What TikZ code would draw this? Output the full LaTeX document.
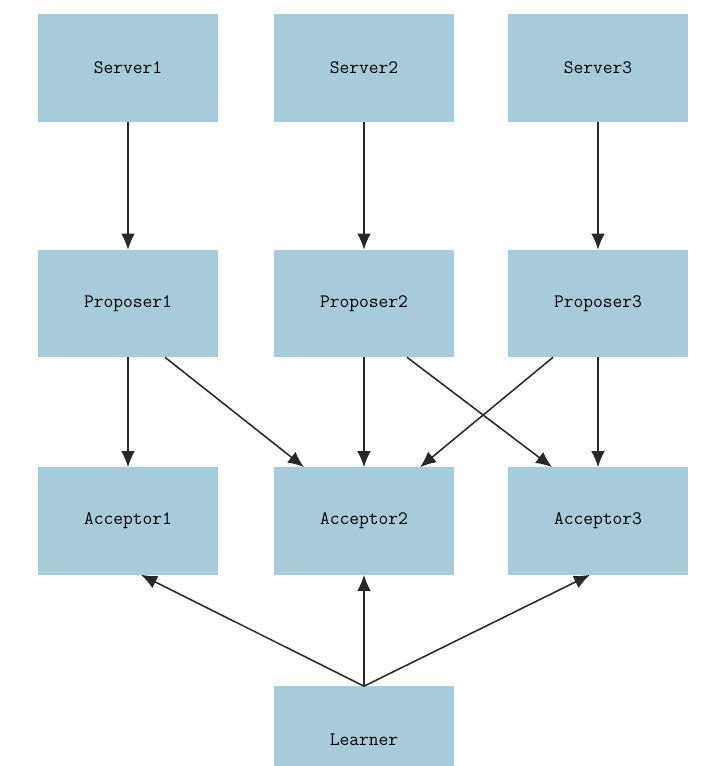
\documentclass[tikz,border=0pt]{standalone}
\usepackage{fontspec}
\usetikzlibrary{arrows.meta}
\definecolor{boxblue}{RGB}{168,203,218}
\definecolor{linegray}{RGB}{40,40,40}
\begin{document}
\begin{tikzpicture}
  [x=0.025cm,y=-0.025cm,
   roleN/.style={rectangle,fill=boxblue,minimum width=4.5cm,minimum height=2.675cm,
                 inner sep=0pt,font=\ttfamily\fontsize{13.5}{16}\selectfont,text=black},
   msg/.style={draw=linegray,line width=1.1pt,-{Latex[length=0.4cm,width=0.34cm]}}]

  \clip (0,0) rectangle (720,766);
  \useasboundingbox (0,0) rectangle (720,766);

  \node[roleN] (s1) at (128,68)  {Server1};
  \node[roleN] (s2) at (364,68)  {Server2};
  \node[roleN] (s3) at (598,68)  {Server3};

  \node[roleN] (p1) at (128,303.5) {Proposer1};
  \node[roleN] (p2) at (364,303.5) {Proposer2};
  \node[roleN] (p3) at (598,303.5) {Proposer3};

  \node[roleN] (a1) at (128,521) {Acceptor1};
  \node[roleN] (a2) at (364,521) {Acceptor2};
  \node[roleN] (a3) at (598,521) {Acceptor3};

  \node[roleN] (l) at (364,740) {Learner};

  \draw [msg] (s1) -- (p1);
  \draw [msg] (s2) -- (p2);
  \draw [msg] (s3) -- (p3);

  \draw [msg] (p1) -- (a1);
  \draw [msg] (p2) -- (a2);
  \draw [msg] (p3) -- (a3);
  \draw [msg] ([xshift=0.925cm]p1.south) -- ([xshift=-1.5cm]a2.north);
  \draw [msg] ([xshift=1.075cm]p2.south) -- ([xshift=-1.15cm]a3.north);
  \draw [msg] ([xshift=-1.125cm]p3.south) -- ([xshift=1.4cm]a2.north);

  \draw [msg] (l.north) -- ([xshift=0.325cm]a1.south);
  \draw [msg] (l) -- (a2);
  \draw [msg] (l.north) -- ([xshift=-0.2cm]a3.south);
\end{tikzpicture}
\end{document}
